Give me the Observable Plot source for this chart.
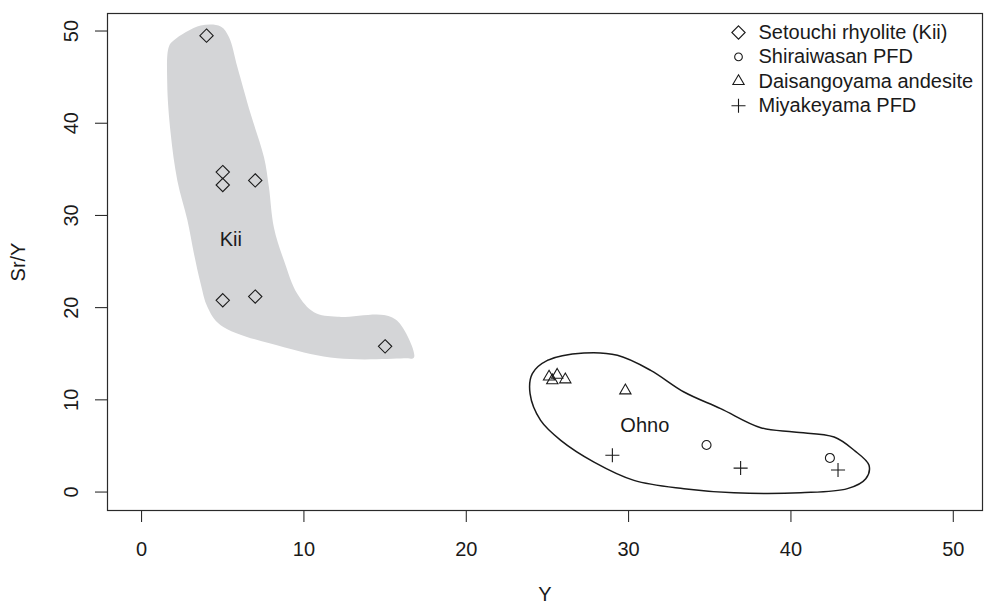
<!DOCTYPE html>
<html>
<head>
<meta charset="utf-8">
<script src="https://cdn.jsdelivr.net/npm/d3@7"></script>
<script src="https://cdn.jsdelivr.net/npm/@observablehq/plot@0.6"></script>
<style>
  html, body { margin: 0; padding: 0; background: #fff; }
  #chart svg { font-family: "Liberation Sans", Arial, sans-serif; }
</style>
</head>
<body>
<div id="chart"></div>
<script>
// ---- data ----
const setouchiX = [4, 5, 5, 7, 5, 7, 15];
const setouchiY = [49.5, 34.7, 33.3, 33.8, 20.8, 21.2, 15.8];
const shiraiwasanX = [34.8, 42.4];
const shiraiwasanY = [5.1, 3.7];
const daisangoyamaX = [25.1, 25.6, 25.3, 26.1, 29.8];
const daisangoyamaY = [12.5, 12.7, 12.1, 12.2, 11.0];
const miyakeyamaX = [29.0, 36.9, 42.9];
const miyakeyamaY = [4.0, 2.6, 2.4];

// outline of the Kii field (filled grey)
const kiiX = [1.99, 3.64, 4.87, 5.38, 5.90, 6.72, 7.54, 7.84, 8.15, 8.77, 9.59, 10.62, 12.06, 14.93, 15.85, 16.78, 16.16, 12.06, 8.77, 4.87, 4.05, 3.64, 3.22, 2.82, 2.20, 1.79, 1.58, 1.68];
const kiiY = [49.0, 50.6, 50.5, 49.35, 46.1, 41.0, 36.3, 33.1, 28.7, 25.1, 21.5, 19.5, 19.0, 19.2, 18.4, 14.6, 14.5, 14.5, 15.7, 18.1, 20.1, 22.6, 25.9, 29.5, 33.8, 38.9, 44.3, 48.3];
// outline of the Ohno field
const ohnoX = [24.07, 25.0, 27.25, 29.31, 31.36, 33.41, 35.67, 38.14, 40.19, 42.66, 43.89, 44.81, 44.61, 43.48, 40.60, 36.49, 33.41, 30.33, 27.87, 25.82, 24.58, 23.93];
const ohnoY = [12.84, 14.28, 15.08, 14.83, 13.2, 10.85, 9.05, 6.98, 6.51, 5.97, 4.53, 2.90, 1.45, 0.37, -0.07, -0.07, 0.37, 1.27, 3.25, 5.61, 7.77, 10.67];

const fieldLabels = ["Kii", "Ohno"];
const fieldLabelX = [5.5, 31.0];
const fieldLabelY = [27.4, 7.2];

const xTicks = [0, 10, 20, 30, 40, 50];
const yTicks = [0, 10, 20, 30, 40, 50];
const xTitle = "Y";
const yTitle = "Sr/Y";

const legendLabels = ["Setouchi rhyolite (Kii)", "Shiraiwasan PFD", "Daisangoyama andesite", "Miyakeyama PFD"];
const legendSymbols = ["diamond2", "circle", "triangle2", "plus"];

// ---- build ----
const zip = (xs, ys) => xs.map((x, i) => ({x, y: ys[i]}));
const symR = {diamond2: 6, circle: 4.5, triangle2: 5.4, plus: 4.6};
const FS = 20;
const INK = "#1a1a1a";

const legendMarks = [];
legendLabels.forEach((lab, i) => {
  legendMarks.push(Plot.dot([lab], {frameAnchor: "top-right", dx: -244, dy: 19 + i * 24.4,
    symbol: () => legendSymbols[i], r: symR[legendSymbols[i]] * (legendSymbols[i] === "circle" ? 0.85 : 1),
    stroke: INK, strokeWidth: 1.1, fill: "none"}));
  legendMarks.push(Plot.text([lab], {frameAnchor: "top-right", dx: -224, dy: 19 + i * 24.4,
    text: d => d, textAnchor: "start", lineAnchor: "middle", fontSize: FS, fill: INK}));
});

const groups = [
  [setouchiX, setouchiY, "diamond2"],
  [shiraiwasanX, shiraiwasanY, "circle"],
  [daisangoyamaX, daisangoyamaY, "triangle2"],
  [miyakeyamaX, miyakeyamaY, "plus"]
];

const chart = Plot.plot({
  width: 984,
  height: 605,
  marginLeft: 107,
  marginRight: 2,
  marginTop: 13,
  marginBottom: 95,
  style: {fontFamily: "'Liberation Sans', Arial, sans-serif", background: "#fff"},
  x: {domain: [-2.1, 51.8], label: null},
  y: {domain: [-2, 51.9], label: null},
  marks: [
    Plot.line(zip(kiiX, kiiY), {x: "x", y: "y", curve: "catmull-rom-closed", fill: "#d4d5d7", stroke: "none"}),
    Plot.line(zip(ohnoX, ohnoY), {x: "x", y: "y", curve: "catmull-rom-closed", fill: "none", stroke: INK, strokeWidth: 1.5}),
    ...groups.map(([xs, ys, s]) => Plot.dot(zip(xs, ys), {x: "x", y: "y", symbol: () => s, r: symR[s], stroke: INK, strokeWidth: 1.1, fill: "none"})),
    Plot.text(fieldLabels, {x: (d, i) => fieldLabelX[i], y: (d, i) => fieldLabelY[i], text: d => d, fontSize: FS, fill: INK}),
    Plot.axisX({ticks: xTicks, tickSize: 12, tickPadding: 19, tickFormat: d => String(d), fontSize: FS, stroke: INK, color: INK}),
    Plot.axisY({ticks: yTicks, tickSize: 12, tickFormat: () => "", stroke: INK}),
    Plot.text(yTicks, {y: d => d, frameAnchor: "left", dx: -36, rotate: -90, text: d => String(d), textAnchor: "middle", lineAnchor: "middle", fontSize: FS, fill: INK}),
    Plot.text([xTitle], {frameAnchor: "bottom", dy: 84, text: d => d, textAnchor: "middle", lineAnchor: "middle", fontSize: FS, fill: INK}),
    Plot.text([yTitle], {frameAnchor: "left", dx: -89, rotate: -90, text: d => d, textAnchor: "middle", lineAnchor: "middle", fontSize: FS, fill: INK}),
    ...legendMarks,
    Plot.frame({stroke: "#2a2a2a", strokeWidth: 1.2})
  ]
});
document.getElementById("chart").appendChild(chart);
</script>
</body>
</html>
